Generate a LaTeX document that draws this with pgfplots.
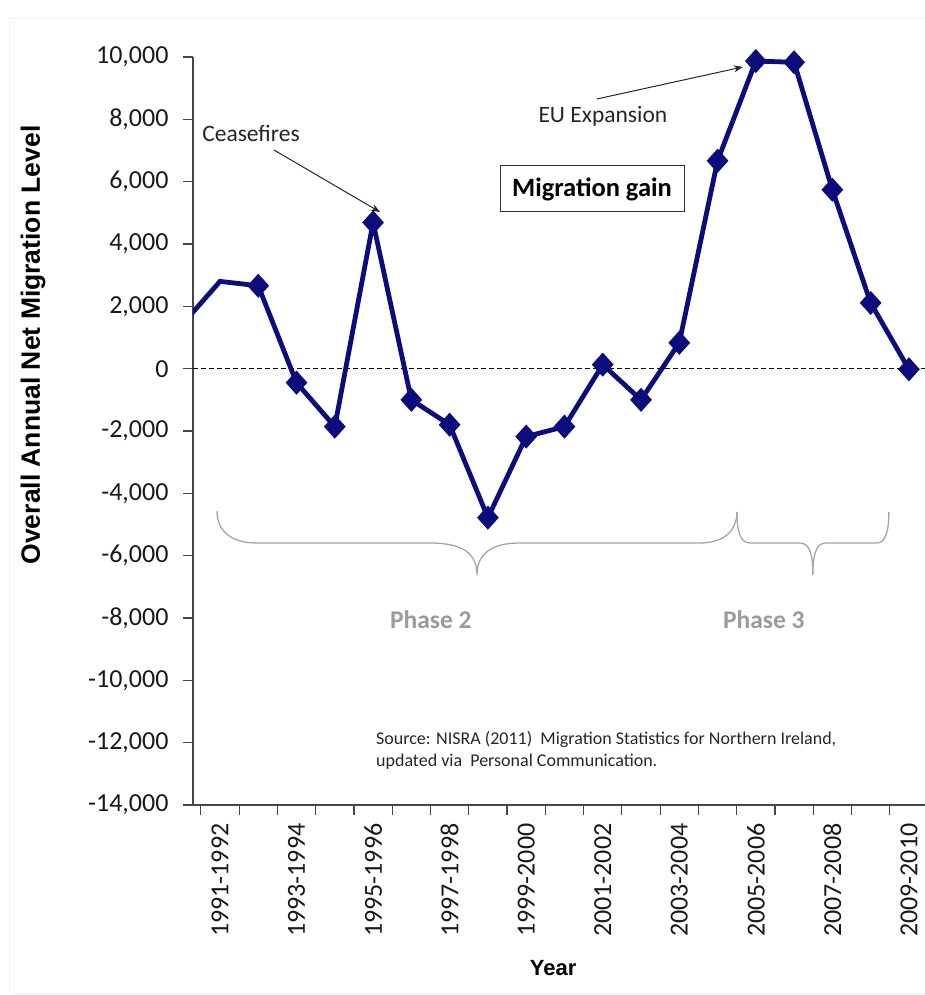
\documentclass[border=0pt]{standalone}
\usepackage{fontspec}
\setmainfont{Carlito}
\newfontfamily\arialfont{Liberation Sans}
\usepackage{pgfplots}
\pgfplotsset{compat=1.18}
\usetikzlibrary{arrows.meta}
\definecolor{navyline}{RGB}{12,12,125}
\definecolor{bracegray}{RGB}{165,165,165}
\definecolor{phasegray}{RGB}{155,155,155}
\definecolor{axisgray}{RGB}{70,70,70}
\begin{document}
\begin{tikzpicture}
\path[use as bounding box] (-193bp,-190bp) rectangle (732bp,805bp);
\draw[black!5, line width=0.8bp] (-184bp,-188bp) rectangle (740bp,787bp);
\begin{axis}[
  at={(0,0)}, anchor=south west,
  scale only axis, width=732bp, height=748bp,
  xmin=-0.705, xmax=18.42, ymin=-14000, ymax=10000,
  axis x line=bottom, axis y line=left,
  axis line style={-, axisgray, line width=1.3bp},
  tick align=outside,
  major tick length=10bp,
  tick style={axisgray, line width=1.2bp},
  xtick={-0.5,0.5,...,17.5}, xticklabels={},
  extra x ticks={0,2,...,18},
  extra x tick labels={1991-1992,1993-1994,1995-1996,1997-1998,1999-2000,2001-2002,2003-2004,2005-2006,2007-2008,2009-2010},
  extra x tick style={major tick length=0pt, tick label style={yshift=-15bp, rotate=90, anchor=east}},
  ytick={-14000,-12000,...,10000},
  scaled y ticks=false,
  yticklabel style={/pgf/number format/1000 sep={,}, /pgf/number format/assume math mode=true, xshift=-11bp},
  tick label style={font=\fontsize{26bp}{30bp}\selectfont, text=black!90},
  ylabel={\arialfont\bfseries Overall Annual Net Migration Level},
  ylabel style={at={(rel axis cs:-0.2186,0.615)}, anchor=center, font=\fontsize{26.5bp}{30bp}\selectfont},
  xlabel={\arialfont\bfseries Year},
  xlabel style={at={(rel axis cs:0.492,-0.218)}, anchor=center, font=\fontsize{22bp}{26bp}\selectfont},
]
\draw[black, line width=1bp, dash pattern=on 5bp off 3bp] (axis cs:-0.705,0) -- (axis cs:18.42,0);
\addplot[navyline, line width=4.8bp, mark=diamond*, mark size=8.5bp, mark indices={2,...,20},
  mark options={solid, xscale=1.2}] coordinates {
  (-1,1400) (0,2800) (1,2660) (2,-450) (3,-1860) (4,4690) (5,-1000) (6,-1800) (7,-4780)
  (8,-2180) (9,-1860) (10,130) (11,-1000) (12,830) (13,6670) (14,9870) (15,9830)
  (16,5740) (17,2110) (18,-20)
};
% annotations
\node[font=\fontsize{23.5bp}{27bp}\selectfont, text=black!85] at (axis cs:0.81,7562) {Ceasefires};
\draw[-{Stealth[length=9bp,width=7bp]}, black!85, line width=1bp] (axis cs:1.41,7016) -- (axis cs:4.18,5027);
\node[font=\fontsize{23.5bp}{27bp}\selectfont, text=black!85] at (axis cs:10.005,8107) {EU Expansion};
\draw[-{Stealth[length=9bp,width=7bp]}, black!85, line width=1bp] (axis cs:9.85,8653) -- (axis cs:13.66,9680);
\node[draw=black!80, line width=1bp, minimum width=184bp, minimum height=46bp, inner sep=0pt,
  font=\fontsize{26.5bp}{30bp}\selectfont\bfseries] at (axis cs:9.72,5765) {Migration gain};
% braces
\draw[bracegray, line width=1.3bp]
 (axis cs:-0.078,-4567) .. controls (axis cs:-0.078,-5176) and (axis cs:0.261,-5593) .. (axis cs:0.967,-5593)
 -- (axis cs:5.486,-5593) .. controls (axis cs:6.40,-5593) and (axis cs:6.714,-5978) .. (axis cs:6.714,-6620)
 .. controls (axis cs:6.714,-5978) and (axis cs:7.053,-5593) .. (axis cs:7.837,-5593)
 -- (axis cs:12.539,-5593) .. controls (axis cs:13.192,-5593) and (axis cs:13.506,-5176) .. (axis cs:13.506,-4599);
\draw[bracegray, line width=1.3bp]
 (axis cs:13.506,-4599) .. controls (axis cs:13.506,-5176) and (axis cs:13.584,-5593) .. (axis cs:13.845,-5593)
 -- (axis cs:15.152,-5593) .. controls (axis cs:15.413,-5593) and (axis cs:15.491,-5978) .. (axis cs:15.491,-6620)
 .. controls (axis cs:15.491,-5978) and (axis cs:15.570,-5593) .. (axis cs:15.831,-5593)
 -- (axis cs:17.163,-5593) .. controls (axis cs:17.398,-5593) and (axis cs:17.476,-5176) .. (axis cs:17.476,-4599);
\node[font=\fontsize{25.5bp}{29bp}\selectfont\bfseries, text=phasegray] at (axis cs:5.51,-8064) {Phase 2};
\node[font=\fontsize{25.5bp}{29bp}\selectfont\bfseries, text=phasegray] at (axis cs:14.21,-8064) {Phase 3};
\node[anchor=north west, align=left, inner sep=0pt, text=black!85,
  font=\fontsize{18bp}{21.5bp}\selectfont] at (axis cs:4.075,-11640)
  {Source: NISRA (2011)\ \ Migration Statistics for Northern Ireland,\\updated via\ \ Personal Communication.};
\end{axis}
\end{tikzpicture}
\end{document}
